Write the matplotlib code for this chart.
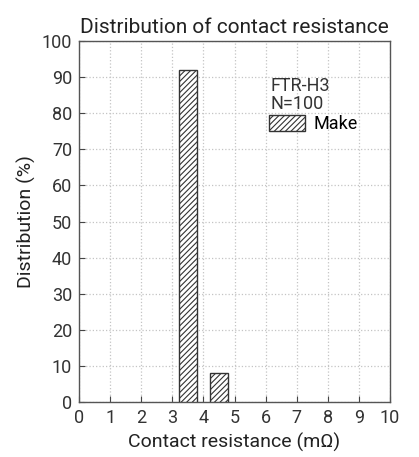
import matplotlib.pyplot as plt
from matplotlib.patches import Patch

# datos
resistencia = [3.5, 4.5]
distribucion = [92, 8]

plt.rcParams['font.family'] = ['Liberation Sans Narrow', 'Roboto', 'DejaVu Sans']
plt.rcParams['hatch.linewidth'] = 0.8

fig = plt.figure(figsize=(4.19, 4.57), dpi=100)
ax = fig.add_axes([79/419, 55/457, 311/419, 361/457])

ax.bar(resistencia, distribucion, width=0.6, color='white', edgecolor='#333333',
       hatch='//////', linewidth=1.0, zorder=3)

ax.set_xlim(0, 10)
ax.set_ylim(0, 100)
ax.set_xticks(range(0, 11))
ax.set_yticks(range(0, 101, 10))
ax.grid(True, color='#c4c4c4', linestyle=':', linewidth=0.9)
ax.tick_params(direction='in', length=4, labelsize=13, colors='#444444', labelcolor='#333333', pad=5)
for s in ax.spines.values():
    s.set_color('#555555')
    s.set_linewidth(1.0)

ax.set_xlabel("Contact resistance (mΩ)", fontsize=14, color='#222222')
ax.set_ylabel("Distribution (%)", fontsize=14, color='#222222')
ax.set_title("Distribution of contact resistance", fontsize=15, color='#222222', pad=6)

ax.text(0.615, 0.85, "FTR-H3\nN=100", transform=ax.transAxes, fontsize=13,
        color='#333333', va='center', linespacing=1.0)
handle = Patch(facecolor='white', edgecolor='#333333', hatch='//////', label='Make')
ax.legend(handles=[handle], loc='upper left', bbox_to_anchor=(0.61, 0.795), frameon=False,
          fontsize=13, handlelength=2.0, handleheight=1.0, borderaxespad=0, borderpad=0,
          handletextpad=0.5)

fig.savefig("out.png")
